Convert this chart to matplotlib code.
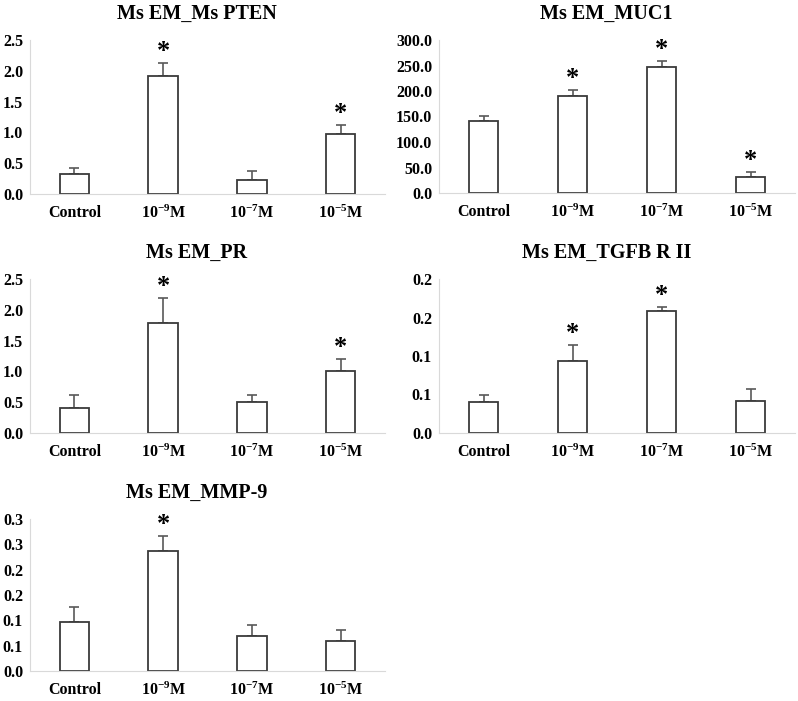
import matplotlib
matplotlib.use("Agg")
import matplotlib.pyplot as plt
import numpy as np
from decimal import Decimal, ROUND_HALF_UP

plt.rcParams['font.family'] = ['Liberation Serif', 'DejaVu Serif']
plt.rcParams['font.weight'] = 'bold'
plt.rcParams['mathtext.fontset'] = 'custom'
plt.rcParams['mathtext.rm'] = 'Liberation Serif:bold'
plt.rcParams['mathtext.it'] = 'Liberation Serif:bold'
plt.rcParams['mathtext.bf'] = 'Liberation Serif:bold'

groups = ['Control', '10$^{-9}$M', '10$^{-7}$M', '10$^{-5}$M']

pten = [0.32, 1.92, 0.23, 0.97]
pten_err = [0.10, 0.21, 0.14, 0.15]
pten_sig = [False, True, False, True]

muc1 = [140.8, 190.1, 247.4, 31.6]
muc1_err = [9.9, 10.9, 10.6, 9.8]
muc1_sig = [False, True, True, True]

pr = [0.40, 1.78, 0.50, 1.00]
pr_err = [0.21, 0.41, 0.11, 0.20]
pr_sig = [False, True, False, True]

tgfb = [0.040, 0.094, 0.159, 0.042]
tgfb_err = [0.010, 0.020, 0.005, 0.015]
tgfb_sig = [False, True, True, False]

mmp9 = [0.096, 0.237, 0.070, 0.060]
mmp9_err = [0.030, 0.029, 0.020, 0.020]
mmp9_sig = [False, True, False, False]

panels = [
    ('Ms EM_Ms PTEN', pten, pten_err, pten_sig, (2.5, 0.5)),
    ('Ms EM_MUC1', muc1, muc1_err, muc1_sig, (300, 50)),
    ('Ms EM_PR', pr, pr_err, pr_sig, (2.5, 0.5)),
    ('Ms EM_TGFB R II', tgfb, tgfb_err, tgfb_sig, (0.2, 0.05)),
    ('Ms EM_MMP-9', mmp9, mmp9_err, mmp9_sig, (0.3, 0.05)),
]


def fmt1(v):
    # Excel-style one-decimal rounding (half up)
    return str(Decimal(str(round(v, 4))).quantize(Decimal('0.1'), rounding=ROUND_HALF_UP))


fig = plt.figure(figsize=(7.98, 7.01), dpi=100)
W, H = 798, 701
# axes boxes in pixels: left, top, right, bottom
boxes = [
    (30, 40, 385, 194),
    (439, 40, 795, 193),
    (30, 279, 385, 433),
    (439, 279, 795, 433),
    (30, 519, 385, 671),
]

for (title, vals, errs, sig, (ymax, step)), (l, t, r, b) in zip(panels, boxes):
    ax = fig.add_axes([l / W, 1 - b / H, (r - l) / W, (b - t) / H])
    x = np.arange(len(groups))
    ticks = [round(i * step, 4) for i in range(int(round(ymax / step)) + 1)]
    ax.bar(x, vals, width=0.33, color='white', edgecolor='#3a3a3a', linewidth=1.3, zorder=2)
    ax.errorbar(x, vals, yerr=[np.zeros(len(errs)), errs], fmt='none',
                ecolor='#595959', elinewidth=1.2, capsize=3.5, capthick=1.2, zorder=1)
    for xi, v, e, s in zip(x, vals, errs, sig):
        if s:
            ax.annotate('*', (xi, v + e), xytext=(0, 0), textcoords='offset points',
                        ha='center', va='bottom', fontsize=19, fontweight='bold')
    ax.set_xlim(-0.5, 3.5)
    ax.set_ylim(0, ymax)
    ax.set_yticks(ticks)
    ax.set_yticklabels([fmt1(v) for v in ticks])
    ax.set_xticks(x)
    ax.set_xticklabels(groups)
    ax.tick_params(axis='x', length=0, labelsize=11.5, pad=8)
    ax.tick_params(axis='y', length=0, labelsize=11.5, pad=5)
    for lab in ax.get_xticklabels() + ax.get_yticklabels():
        lab.set_fontweight('bold')
    ax.spines['top'].set_visible(False)
    ax.spines['right'].set_visible(False)
    ax.spines['left'].set_color('#d9d9d9')
    ax.spines['bottom'].set_color('#d9d9d9')
    ax.set_title(title, fontsize=14.5, fontweight='bold', pad=15, x=0.47)

fig.savefig('out.png', dpi=100)
